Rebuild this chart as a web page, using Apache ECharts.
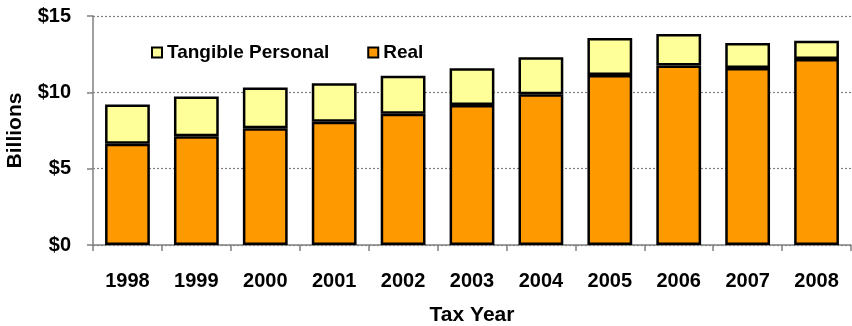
<!DOCTYPE html>
<html>
<head>
<meta charset="utf-8">
<script src="https://cdn.jsdelivr.net/npm/echarts@6/dist/echarts.min.js"></script>
<style>
  html, body { margin: 0; padding: 0; background: #fff; }
  #chart { width: 852px; height: 326px; }
</style>
</head>
<body>
<div id="chart"></div>
<script>
// tax years
var years = ['1998', '1999', '2000', '2001', '2002', '2003', '2004', '2005', '2006', '2007', '2008'];
// billions
var realValues = [6.64, 7.12, 7.64, 8.08, 8.60, 9.17, 9.87, 11.14, 11.75, 11.59, 12.18];
var tangibleValues = [2.57, 2.60, 2.67, 2.51, 2.49, 2.40, 2.42, 2.42, 2.07, 1.64, 1.20];

var font = 'Arial, "Liberation Sans", sans-serif';
var chart = echarts.init(document.getElementById('chart'));

var option = {
    animation: false,
    grid: {
        left: 93,
        right: 1,
        top: 16,
        bottom: 81,
        containLabel: false,
        outerBoundsMode: 'none'
    },
    legend: {
        left: 146,
        top: 38,
        itemWidth: 10,
        itemHeight: 10,
        itemGap: 38,
        icon: 'rect',
        textStyle: { fontFamily: font, fontWeight: 'bold', fontSize: 19, color: '#000' },
        data: ['Tangible Personal', 'Real']
    },
    xAxis: {
        type: 'category',
        data: years,
        name: 'Tax Year',
        nameLocation: 'middle',
        nameGap: 60,
        nameTextStyle: { fontFamily: font, fontWeight: 'bold', fontSize: 21, color: '#000' },
        axisLine: { lineStyle: { color: '#808080', width: 1.5 } },
        axisTick: { show: true, length: 6, lineStyle: { color: '#808080', width: 1.5 } },
        axisLabel: { margin: 26, fontFamily: font, fontWeight: 'bold', fontSize: 20, color: '#000' }
    },
    yAxis: {
        type: 'value',
        min: 0,
        max: 15,
        interval: 5,
        name: 'Billions',
        nameLocation: 'middle',
        nameGap: 67,
        nameTextStyle: { fontFamily: font, fontWeight: 'bold', fontSize: 21, color: '#000' },
        axisLine: { show: true, lineStyle: { color: '#808080', width: 1.5 } },
        axisTick: { show: true, length: 6, lineStyle: { color: '#808080', width: 1.5 } },
        axisLabel: {
            margin: 22,
            fontFamily: font, fontWeight: 'bold', fontSize: 20, color: '#000',
            formatter: function (v) { return '$' + v; }
        },
        splitLine: { lineStyle: { color: '#808080', type: [2, 2], width: 1.2 } }
    },
    series: [
        {
            name: 'Real',
            type: 'bar',
            stack: 'total',
            barWidth: '65%',
            data: realValues,
            itemStyle: { color: '#FF9900', borderColor: '#000', borderWidth: 2.5 }
        },
        {
            name: 'Tangible Personal',
            type: 'bar',
            stack: 'total',
            barWidth: '65%',
            data: tangibleValues,
            itemStyle: { color: '#FFFF99', borderColor: '#000', borderWidth: 2.5 }
        }
    ]
};
chart.setOption(option);
</script>
</body>
</html>
